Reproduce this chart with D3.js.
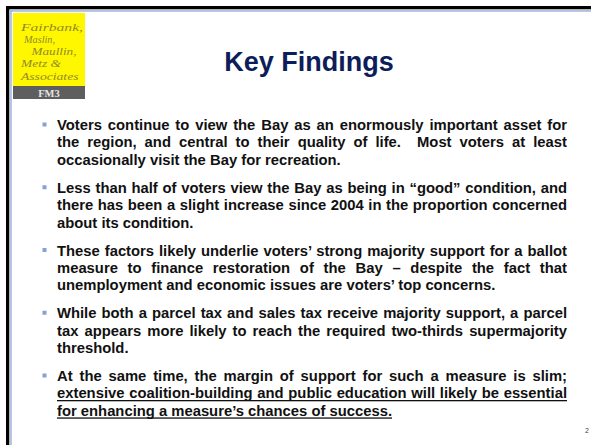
<!DOCTYPE html>
<html><head><meta charset="utf-8">
<script src="https://cdn.jsdelivr.net/npm/d3@7"></script>
<style>html,body{margin:0;padding:0;background:#fff;overflow:hidden}</style>
</head><body>
<svg id="c" width="591" height="445"></svg>
<script>
// ---- content ----
const title = "Key Findings";
const logoLines = ["Fairbank,", "Maslin,", "Maullin,", "Metz &", "Associates"];
const logoTag = "FM3";
const bulletLines = [
  ["Voters continue to view the Bay as an enormously important asset for",
   "the region, and central to their quality of life.  Most voters at least",
   "occasionally visit the Bay for recreation."],
  ["Less than half of voters view the Bay as being in \u201cgood\u201d condition, and",
   "there has been a slight increase since 2004 in the proportion concerned",
   "about its condition."],
  ["These factors likely underlie voters\u2019 strong majority support for a ballot",
   "measure to finance restoration of the Bay \u2013 despite the fact that",
   "unemployment and economic issues are voters\u2019 top concerns."],
  ["While both a parcel tax and sales tax receive majority support, a parcel",
   "tax appears more likely to reach the required two-thirds supermajority",
   "threshold."],
  ["At the same time, the margin of support for such a measure is slim;",
   "extensive coalition-building and public education will likely be essential",
   "for enhancing a measure\u2019s chances of success."]
];
const underlined = [
  [false, false, false],
  [false, false, false],
  [false, false, false],
  [false, false, false],
  [false, true, true]
];
const pageNumber = "2";

// ---- layout ----
const svg = d3.select("#c");
const logoX = [21, 24, 31.5, 21, 21];
const logoW = [62, 31, 45, 40, 57.5];

// frame
svg.append("rect").attr("x", 6).attr("y", 6).attr("width", 585).attr("height", 3.3).attr("fill", "#000");
svg.append("rect").attr("x", 6).attr("y", 6).attr("width", 3.3).attr("height", 439).attr("fill", "#000");
svg.append("rect").attr("x", 10).attr("y", 10.2).attr("width", 581).attr("height", 1.5).attr("fill", "#9db3da");
svg.append("rect").attr("x", 10.2).attr("y", 10).attr("width", 1.5).attr("height", 435).attr("fill", "#9db3da");

// logo
svg.append("rect").attr("x", 13).attr("y", 13).attr("width", 72).attr("height", 73).attr("fill", "#fff700");
svg.append("rect").attr("x", 13).attr("y", 86).attr("width", 72).attr("height", 13).attr("fill", "#5e5e5e");
const ly = d3.scaleLinear().domain([0, logoLines.length - 1]).range([31, 79.5]);
svg.selectAll("text.logo").data(logoLines).join("text")
  .attr("class", "logo")
  .attr("x", (d, i) => logoX[i]).attr("y", (d, i) => ly(i))
  .attr("textLength", (d, i) => logoW[i]).attr("lengthAdjust", "spacingAndGlyphs")
  .attr("font-family", "Liberation Serif, Times New Roman, serif")
  .attr("font-style", "italic").attr("font-size", 11)
  .attr("fill", "#8f8a2a").text(d => d);
svg.append("text").attr("x", 49).attr("y", 96.5).attr("text-anchor", "middle")
  .attr("font-family", "Liberation Serif, Times New Roman, serif").attr("font-weight", "bold")
  .attr("font-size", 10.5).attr("fill", "#e6e6e6").text(logoTag);

// title
svg.append("text").attr("x", 309).attr("y", 71).attr("text-anchor", "middle")
  .attr("font-family", "Liberation Sans, Arial, sans-serif").attr("font-weight", "bold")
  .attr("font-size", 27).attr("fill", "#0d1d5a").text(title);

// bullets
const left = 57, right = 567;
const py = d3.scaleLinear().domain([0, bulletLines.length - 1]).range([130, 381]);
const lineStep = 17.4;
const fs = 14.8;
bulletLines.forEach((lines, p) => {
  const by = py(p);
  svg.append("rect").attr("x", 42.5).attr("y", by - 7.5).attr("width", 4).attr("height", 4).attr("fill", "#86a2d4");
  lines.forEach((ln, i) => {
    const y = by + i * lineStep;
    const t = svg.append("text").attr("x", left).attr("y", y)
      .attr("font-family", "Liberation Sans, Arial, sans-serif").attr("font-weight", "bold")
      .attr("font-size", fs).attr("fill", "#111").attr("xml:space", "preserve")
      .style("white-space", "pre").text(ln);
    const w = t.node().getComputedTextLength();
    let fw = w;
    if (i < lines.length - 1) {
      const spaces = (ln.match(/ /g) || []).length;
      const ws = (right - left - w) / spaces;
      t.attr("word-spacing", ws);
      fw = right - left;
    }
    if (underlined[p][i]) {
      svg.append("rect").attr("x", left).attr("y", y + 1.6).attr("width", fw).attr("height", 1.3).attr("fill", "#111");
    }
  });
});

// page number
svg.append("text").attr("x", 589).attr("y", 433).attr("text-anchor", "end")
  .attr("font-family", "Liberation Sans, Arial, sans-serif").attr("font-size", 7)
  .attr("fill", "#444").text(pageNumber);
</script>
</body></html>
